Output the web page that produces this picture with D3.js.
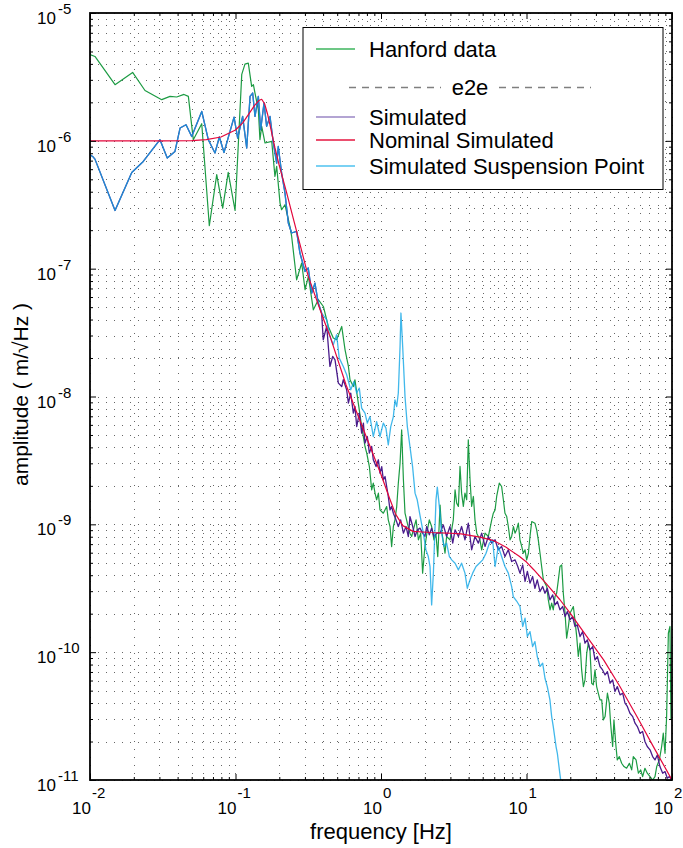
<!DOCTYPE html>
<html>
<head>
<meta charset="utf-8">
<script src="https://cdn.jsdelivr.net/npm/d3@7"></script>
<style>
  body { margin: 0; background: #fff; }
  svg { display: block; font-family: "Liberation Sans", Arial, sans-serif; }
</style>
</head>
<body>
<div id="chart"></div>
<script>
// every series is a list of [log10 frequency (Hz), log10 amplitude (m/rtHz)]
// pairs
const hanford = [
  [-2.000,-5.326],[-1.966,-5.340],[-1.828,-5.561],[-1.707,-5.465],[-1.622,-5.606],[-1.507,-5.678],
  [-1.450,-5.652],[-1.404,-5.657],[-1.354,-5.637],[-1.324,-5.652],[-1.290,-5.991],[-1.232,-5.866],
  [-1.180,-6.664],[-1.129,-6.265],[-1.088,-6.526],[-1.050,-6.247],[-1.003,-6.545],[-0.957,-5.480],
  [-0.935,-5.400],[-0.912,-5.392],[-0.889,-5.574],[-0.877,-5.561],[-0.866,-5.626],[-0.843,-5.757],
  [-0.832,-5.991],[-0.820,-5.887],[-0.797,-6.017],[-0.751,-6.004],[-0.729,-6.278],[-0.717,-6.200],
  [-0.694,-6.487],[-0.683,-6.539],[-0.660,-6.500],[-0.626,-6.670],[-0.614,-6.748],[-0.580,-7.087],
  [-0.545,-6.956],[-0.522,-7.165],[-0.499,-7.061],[-0.465,-7.322],[-0.431,-7.243],[-0.396,-7.296],
  [-0.362,-7.452],[-0.328,-7.543],[-0.305,-7.556],[-0.270,-7.452],[-0.247,-7.635],[-0.224,-7.765],
  [-0.213,-7.869],[-0.190,-7.922],[-0.179,-7.869],[-0.156,-8.052],[-0.133,-8.235],[-0.110,-8.391],
  [-0.098,-8.443],[-0.080,-8.548],[-0.064,-8.730],[-0.053,-8.678],[-0.041,-8.756],[-0.030,-8.808],
  [-0.018,-8.756],[-0.007,-8.887],[0.016,-8.913],[0.039,-8.861],[0.050,-8.965],[0.062,-9.017],
  [0.073,-9.174],[0.085,-9.017],[0.096,-8.965],[0.108,-8.861],[0.119,-8.678],[0.131,-8.521],
  [0.142,-8.261],[0.154,-8.652],[0.165,-8.913],[0.181,-8.991],[0.199,-9.069],[0.211,-9.095],
  [0.222,-9.043],[0.241,-8.965],[0.257,-9.121],[0.273,-9.069],[0.286,-9.382],[0.302,-9.173],
  [0.318,-9.050],[0.332,-8.965],[0.348,-9.017],[0.364,-9.121],[0.378,-9.080],[0.390,-9.252],
  [0.406,-8.850],[0.417,-9.050],[0.440,-9.226],[0.451,-9.095],[0.474,-9.121],[0.497,-8.965],
  [0.509,-8.730],[0.520,-8.834],[0.532,-8.860],[0.543,-8.547],[0.554,-8.756],[0.566,-8.860],
  [0.577,-8.756],[0.589,-8.808],[0.600,-8.339],[0.612,-8.652],[0.623,-8.860],[0.635,-8.782],
  [0.646,-8.965],[0.658,-9.069],[0.680,-9.121],[0.692,-9.200],[0.715,-9.069],[0.738,-9.095],
  [0.761,-8.965],[0.772,-8.913],[0.784,-8.887],[0.795,-8.782],[0.813,-8.678],[0.829,-8.704],
  [0.841,-8.808],[0.852,-8.913],[0.864,-8.939],[0.875,-9.017],[0.887,-9.121],[0.898,-9.095],
  [0.910,-9.017],[0.921,-9.069],[0.932,-9.043],[0.944,-8.991],[0.955,-9.121],[0.967,-9.173],
  [0.978,-9.226],[0.990,-9.200],[1.001,-9.278],[1.013,-9.226],[1.024,-9.095],[1.036,-8.978],
  [1.058,-8.991],[1.070,-9.043],[1.081,-9.121],[1.093,-9.226],[1.104,-9.330],[1.116,-9.434],
  [1.127,-9.460],[1.139,-9.486],[1.150,-9.591],[1.162,-9.669],[1.173,-9.617],[1.184,-9.669],
  [1.196,-9.565],[1.207,-9.539],[1.219,-9.434],[1.230,-9.330],[1.242,-9.317],[1.253,-9.539],
  [1.265,-9.695],[1.276,-9.891],[1.288,-9.799],[1.299,-9.695],[1.322,-9.643],[1.333,-9.747],
  [1.345,-9.878],[1.356,-10.034],[1.368,-9.930],[1.379,-10.139],[1.391,-10.269],[1.402,-10.217],
  [1.414,-10.008],[1.425,-9.930],[1.436,-9.982],[1.448,-10.243],[1.459,-10.256],[1.471,-10.139],
  [1.482,-10.269],[1.505,-10.373],[1.517,-10.373],[1.528,-10.530],[1.540,-10.504],[1.556,-10.321],
  [1.569,-10.399],[1.578,-10.556],[1.592,-10.738],[1.601,-10.530],[1.615,-10.738],[1.624,-10.843],
  [1.638,-10.817],[1.654,-10.869],[1.670,-10.895],[1.688,-10.908],[1.707,-10.869],[1.723,-10.921],
  [1.734,-10.817],[1.753,-10.843],[1.769,-10.947],[1.785,-10.921],[1.798,-10.973],[1.814,-10.908],
  [1.830,-10.947],[1.849,-10.973],[1.867,-11.000],[1.883,-10.973],[1.895,-10.895],[1.913,-10.843],
  [1.929,-10.738],[1.940,-10.634],[1.952,-10.791],[1.963,-10.504],[1.975,-9.852],[1.986,-9.799],
  [1.993,-10.530]
];

const simulated = [
  [-2.000,-6.109],[-1.982,-6.122],[-1.966,-6.143],[-1.828,-6.545],[-1.713,-6.247],[-1.634,-6.161],
  [-1.519,-5.991],[-1.469,-6.135],[-1.416,-6.083],[-1.381,-5.900],[-1.340,-5.874],[-1.301,-5.966],
  [-1.232,-5.770],[-1.187,-5.991],[-1.141,-6.095],[-1.111,-5.970],[-1.079,-6.091],[-1.010,-5.814],
  [-0.985,-5.978],[-0.951,-5.809],[-0.923,-6.056],[-0.900,-5.653],[-0.882,-5.626],[-0.866,-5.809],
  [-0.843,-5.653],[-0.827,-5.913],[-0.804,-5.704],[-0.786,-5.887],[-0.763,-5.809],[-0.740,-6.017],
  [-0.717,-6.174],[-0.706,-6.044],[-0.683,-6.252],[-0.660,-6.408],[-0.637,-6.643],[-0.614,-6.721],
  [-0.580,-6.709],[-0.557,-6.878],[-0.522,-7.022],[-0.500,-6.995],[-0.476,-7.191],[-0.454,-7.113],
  [-0.431,-7.269],[-0.408,-7.347],[-0.397,-7.556],[-0.373,-7.450],[-0.351,-7.765],[-0.332,-7.687],
  [-0.316,-7.713],[-0.293,-7.895],[-0.270,-7.922],[-0.259,-7.869],[-0.236,-7.948],[-0.224,-8.052],
  [-0.208,-7.974],[-0.190,-8.130],[-0.179,-8.078],[-0.167,-8.235],[-0.149,-8.130],[-0.133,-8.287],
  [-0.121,-8.208],[-0.110,-8.365],[-0.094,-8.313],[-0.080,-8.443],[-0.064,-8.391],[-0.053,-8.495],
  [-0.034,-8.548],[-0.018,-8.495],[-0.007,-8.600],[0.005,-8.548],[0.016,-8.652],[0.028,-8.626],
  [0.039,-8.704],[0.050,-8.782],[0.062,-8.887],[0.073,-8.861],[0.085,-8.913],[0.103,-8.965],
  [0.119,-9.017],[0.135,-8.965],[0.154,-9.069],[0.172,-9.017],[0.188,-9.095],[0.199,-8.939],
  [0.218,-9.017],[0.234,-9.095],[0.250,-9.043],[0.268,-9.030],[0.286,-9.069],[0.302,-9.095],
  [0.314,-9.017],[0.332,-9.082],[0.348,-9.030],[0.364,-9.095],[0.383,-9.069],[0.406,-9.069],
  [0.428,-9.004],[0.451,-9.095],[0.474,-9.017],[0.493,-9.147],[0.509,-9.043],[0.532,-9.095],
  [0.554,-9.017],[0.577,-9.121],[0.600,-8.991],[0.623,-9.199],[0.646,-9.095],[0.669,-9.147],
  [0.692,-9.069],[0.715,-9.173],[0.738,-9.095],[0.761,-9.147],[0.784,-9.121],[0.806,-9.199],
  [0.829,-9.173],[0.852,-9.252],[0.875,-9.199],[0.898,-9.291],[0.921,-9.278],[0.940,-9.330],
  [0.955,-9.382],[0.974,-9.317],[0.990,-9.447],[1.006,-9.369],[1.024,-9.460],[1.042,-9.408],
  [1.058,-9.500],[1.074,-9.434],[1.093,-9.526],[1.111,-9.486],[1.127,-9.539],[1.143,-9.500],
  [1.161,-9.591],[1.180,-9.552],[1.196,-9.630],[1.212,-9.604],[1.230,-9.669],[1.249,-9.643],
  [1.265,-9.721],[1.281,-9.682],[1.299,-9.747],[1.317,-9.721],[1.333,-9.799],[1.349,-9.786],
  [1.368,-9.878],[1.386,-9.839],[1.402,-9.930],[1.418,-9.904],[1.436,-9.982],[1.455,-9.956],
  [1.471,-10.060],[1.487,-10.034],[1.505,-10.112],[1.523,-10.139],[1.540,-10.178],[1.556,-10.152],
  [1.574,-10.243],[1.592,-10.217],[1.608,-10.308],[1.624,-10.269],[1.643,-10.334],[1.661,-10.321],
  [1.677,-10.399],[1.693,-10.425],[1.711,-10.478],[1.730,-10.504],[1.746,-10.556],[1.762,-10.582],
  [1.780,-10.634],[1.798,-10.621],[1.814,-10.699],[1.830,-10.738],[1.849,-10.764],[1.867,-10.817],
  [1.883,-10.843],[1.899,-10.804],[1.917,-10.895],[1.936,-10.947],[1.952,-10.934],[1.968,-10.986],
  [1.982,-10.973],[1.998,-10.999]
];

const nominal = [
  [-2.00,-6.000],[-1.50,-6.000],[-1.30,-5.998],[-1.20,-5.990],[-1.10,-5.970],[-1.00,-5.915],
  [-0.95,-5.860],[-0.90,-5.775],[-0.87,-5.725],[-0.84,-5.685],[-0.82,-5.675],[-0.80,-5.710],
  [-0.78,-5.790],[-0.76,-5.890],[-0.73,-6.050],[-0.70,-6.190],[-0.65,-6.400],[-0.60,-6.620],
  [-0.55,-6.840],[-0.50,-7.060],[-0.40,-7.380],[-0.35,-7.530],[-0.24,-7.910],[-0.12,-8.260],
  [0.00,-8.610],[0.06,-8.800],[0.10,-8.920],[0.15,-9.010],[0.22,-9.055],[0.34,-9.064],
  [0.45,-9.068],[0.55,-9.075],[0.68,-9.100],[0.77,-9.125],[0.86,-9.180],[0.95,-9.250],
  [1.00,-9.295],[1.05,-9.355],[1.14,-9.470],[1.23,-9.590],[1.30,-9.695],[1.41,-9.870],
  [1.53,-10.060],[1.64,-10.265],[1.76,-10.505],[1.87,-10.735],[2.00,-11.000]
];

const suspension = [
  [-2.000,-6.109],[-1.982,-6.122],[-1.966,-6.143],[-1.828,-6.545],[-1.713,-6.247],[-1.634,-6.161],
  [-1.519,-5.991],[-1.469,-6.135],[-1.416,-6.083],[-1.381,-5.900],[-1.340,-5.874],[-1.301,-5.966],
  [-1.232,-5.770],[-1.187,-5.991],[-1.141,-6.095],[-1.111,-5.970],[-1.079,-6.091],[-1.010,-5.814],
  [-0.985,-5.978],[-0.951,-5.809],[-0.923,-6.056],[-0.900,-5.653],[-0.882,-5.626],[-0.866,-5.809],
  [-0.843,-5.653],[-0.827,-5.913],[-0.804,-5.704],[-0.786,-5.887],[-0.763,-5.809],[-0.740,-6.017],
  [-0.717,-6.174],[-0.706,-6.044],[-0.683,-6.252],[-0.660,-6.408],[-0.637,-6.643],[-0.614,-6.721],
  [-0.580,-6.709],[-0.557,-6.878],[-0.522,-7.022],[-0.500,-6.995],[-0.476,-7.191],[-0.454,-7.113],
  [-0.431,-7.269],[-0.408,-7.347],[-0.373,-7.400],[-0.351,-7.531],[-0.328,-7.595],[-0.305,-7.517],
  [-0.287,-7.700],[-0.259,-7.765],[-0.236,-7.830],[-0.208,-7.948],[-0.186,-7.883],[-0.167,-7.973],
  [-0.149,-7.934],[-0.133,-8.091],[-0.110,-8.130],[-0.094,-8.208],[-0.076,-8.157],[-0.053,-8.313],
  [-0.030,-8.196],[-0.007,-8.313],[0.016,-8.208],[0.034,-8.247],[0.050,-8.378],[0.067,-8.235],
  [0.085,-8.157],[0.096,-8.026],[0.108,-8.078],[0.119,-7.973],[0.131,-7.609],[0.137,-7.347],
  [0.149,-7.609],[0.165,-8.000],[0.181,-8.235],[0.199,-8.391],[0.217,-8.548],[0.234,-8.756],
  [0.249,-8.808],[0.268,-8.930],[0.291,-9.069],[0.309,-9.200],[0.325,-9.252],[0.337,-9.330],
  [0.348,-9.630],[0.360,-9.382],[0.378,-8.808],[0.387,-8.709],[0.401,-8.860],[0.417,-9.069],
  [0.433,-9.173],[0.451,-9.147],[0.470,-9.252],[0.486,-9.278],[0.509,-9.304],[0.532,-9.356],
  [0.554,-9.304],[0.577,-9.382],[0.593,-9.500],[0.612,-9.434],[0.630,-9.382],[0.653,-9.330],
  [0.676,-9.304],[0.699,-9.278],[0.722,-9.226],[0.745,-9.147],[0.767,-9.121],[0.784,-9.330],
  [0.806,-9.174],[0.829,-9.252],[0.852,-9.330],[0.875,-9.382],[0.898,-9.487],[0.909,-9.565],
  [0.932,-9.600],[0.955,-9.643],[0.974,-9.799],[0.990,-9.734],[1.006,-9.878],[1.024,-9.839],
  [1.042,-9.956],[1.058,-9.917],[1.074,-10.034],[1.093,-10.112],[1.111,-10.086],[1.127,-10.204],
  [1.143,-10.269],[1.161,-10.373],[1.173,-10.504],[1.184,-10.582],[1.203,-10.738],[1.212,-10.791],
  [1.226,-10.921],[1.235,-11.000]
];

const xTickExps = [-2, -1, 0, 1, 2];
const yTickExps = [-11, -10, -9, -8, -7, -6, -5];
const legendLabels = ["Hanford data", "e2e", "Simulated", "Nominal Simulated", "Simulated Suspension Point"];

// layout
const width = 683;
const height = 848;
const marginTop = 13;
const marginRight = 11;
const marginBottom = 68;
const marginLeft = 90;

const x = d3.scaleLog([1e-2, 1e2], [marginLeft, width - marginRight]);
const y = d3.scaleLog([1e-11, 1e-5], [height - marginBottom, marginTop]);

const svg = d3.select("#chart").append("svg")
    .attr("width", width)
    .attr("height", height)
    .attr("viewBox", [0, 0, width, height]);

svg.append("defs").append("clipPath")
    .attr("id", "plot-clip")
  .append("rect")
    .attr("x", marginLeft)
    .attr("y", marginTop)
    .attr("width", width - marginLeft - marginRight)
    .attr("height", height - marginTop - marginBottom);

// dotted grid on every major and minor decade tick
const grid = svg.append("g")
    .attr("stroke", "#000")
    .attr("stroke-width", 1)
    .attr("stroke-dasharray", "1,7")
    .attr("stroke-opacity", 0.6);

grid.selectAll(".vgrid")
  .data(x.ticks())
  .join("line")
    .attr("class", "vgrid")
    .attr("x1", d => Math.round(x(d)) + 0.5)
    .attr("x2", d => Math.round(x(d)) + 0.5)
    .attr("y1", marginTop)
    .attr("y2", height - marginBottom);

grid.selectAll(".hgrid")
  .data(y.ticks())
  .join("line")
    .attr("class", "hgrid")
    .attr("x1", marginLeft)
    .attr("x2", width - marginRight)
    .attr("y1", d => Math.round(y(d)) + 0.5)
    .attr("y2", d => Math.round(y(d)) + 0.5);

// data lines
const line = d3.line()
    .x(d => x(10 ** d[0]))
    .y(d => y(10 ** d[1]));

const plot = svg.append("g").attr("clip-path", "url(#plot-clip)");

const series = [
  {data: hanford, color: "#1c9b43", width: 1.2, opacity: 1},
  {data: simulated, color: "#4a1c8c", width: 1.3, opacity: 1},
  {data: suspension, color: "#12a6e6", width: 1.3, opacity: 0.8},
  {data: nominal, color: "#e3073c", width: 1.2, opacity: 1}
];

plot.selectAll("path")
  .data(series)
  .join("path")
    .attr("fill", "none")
    .attr("stroke", d => d.color)
    .attr("stroke-width", d => d.width)
    .attr("stroke-opacity", d => d.opacity)
    .attr("stroke-linejoin", "round")
    .attr("d", d => line(d.data));

// inward ticks on all four sides
const majorX = xTickExps.map(e => 10 ** e);
const majorY = yTickExps.map(e => 10 ** e);
const minorX = x.ticks().filter(v => !majorX.some(m => Math.abs(m - v) / m < 1e-6));
const minorY = y.ticks().filter(v => !majorY.some(m => Math.abs(m - v) / m < 1e-6));

function addTicks(axisFn, scale, transform, values, size) {
  svg.append("g")
      .attr("transform", transform)
      .call(axisFn(scale).tickValues(values).tickSize(-size).tickFormat(""))
      .call(g => g.select(".domain").remove())
      .call(g => g.selectAll(".tick line").attr("stroke", "#000").attr("stroke-width", 1));
}
const bottomY = height - marginBottom;
const rightX = width - marginRight;
[[minorX, 3], [majorX, 6]].forEach(([vals, s]) => {
  addTicks(d3.axisBottom, x, `translate(0,${bottomY})`, vals, s);
  addTicks(d3.axisTop, x, `translate(0,${marginTop})`, vals, s);
});
[[minorY, 3], [majorY, 6]].forEach(([vals, s]) => {
  addTicks(d3.axisLeft, y, `translate(${marginLeft},0)`, vals, s);
  addTicks(d3.axisRight, y, `translate(${rightX},0)`, vals, s);
});

// box
svg.append("rect")
    .attr("x", marginLeft)
    .attr("y", marginTop)
    .attr("width", width - marginLeft - marginRight)
    .attr("height", height - marginTop - marginBottom)
    .attr("fill", "none")
    .attr("stroke", "#000")
    .attr("stroke-width", 1.8);

// tick labels: "10" with a raised exponent
const xLabels = svg.append("g").attr("fill", "#000");
xTickExps.forEach(e => {
  const px = x(10 ** e);
  xLabels.append("text")
      .attr("x", px + 1)
      .attr("y", 814)
      .attr("text-anchor", "end")
      .attr("font-size", 17)
      .text("10");
  xLabels.append("text")
      .attr("x", px + 2)
      .attr("y", 798)
      .attr("font-size", 15)
      .text(e);
});

const yLabels = svg.append("g").attr("fill", "#000");
yTickExps.forEach(e => {
  const py = y(10 ** e);
  yLabels.append("text")
      .attr("x", 56)
      .attr("y", py + 11)
      .attr("text-anchor", "end")
      .attr("font-size", 17)
      .text("10");
  yLabels.append("text")
      .attr("x", 58)
      .attr("y", py + 1)
      .attr("font-size", 15)
      .text(e);
});

// axis titles
svg.append("text")
    .attr("x", (marginLeft + rightX) / 2)
    .attr("y", 839)
    .attr("text-anchor", "middle")
    .attr("font-size", 22)
    .text("frequency [Hz]");

svg.append("text")
    .attr("transform", `translate(28,${(marginTop + bottomY) / 2 - 2}) rotate(-90)`)
    .attr("text-anchor", "middle")
    .attr("font-size", 21)
    .text("amplitude ( m/\u221AHz )");

// legend
const legend = svg.append("g");
legend.append("rect")
    .attr("x", 303)
    .attr("y", 27.5)
    .attr("width", 360)
    .attr("height", 162)
    .attr("fill", "#fff")
    .attr("stroke", "#000")
    .attr("stroke-width", 1);

const legendRows = [
  {label: legendLabels[0], color: "#3cb55c", y: 49},
  {label: legendLabels[2], color: "#9a86c4", y: 117},
  {label: legendLabels[3], color: "#e5153f", y: 140},
  {label: legendLabels[4], color: "#4ec2ef", y: 166}
];
legendRows.forEach(r => {
  legend.append("line")
      .attr("x1", 316).attr("x2", 355)
      .attr("y1", r.y).attr("y2", r.y)
      .attr("stroke", r.color)
      .attr("stroke-width", 1.5);
  legend.append("text")
      .attr("x", 369)
      .attr("y", r.y + 8)
      .attr("font-size", 22)
      .text(r.label);
});

// e2e separator row
legend.append("text")
    .attr("x", 470)
    .attr("y", 95)
    .attr("text-anchor", "middle")
    .attr("font-size", 22)
    .text(legendLabels[1]);
[[349, 441], [499, 591]].forEach(([a, b]) => {
  legend.append("line")
      .attr("x1", a).attr("x2", b)
      .attr("y1", 87.5).attr("y2", 87.5)
      .attr("stroke", "#7f7f7f")
      .attr("stroke-width", 1.6)
      .attr("stroke-dasharray", "7,6");
});
</script>
</body>
</html>
